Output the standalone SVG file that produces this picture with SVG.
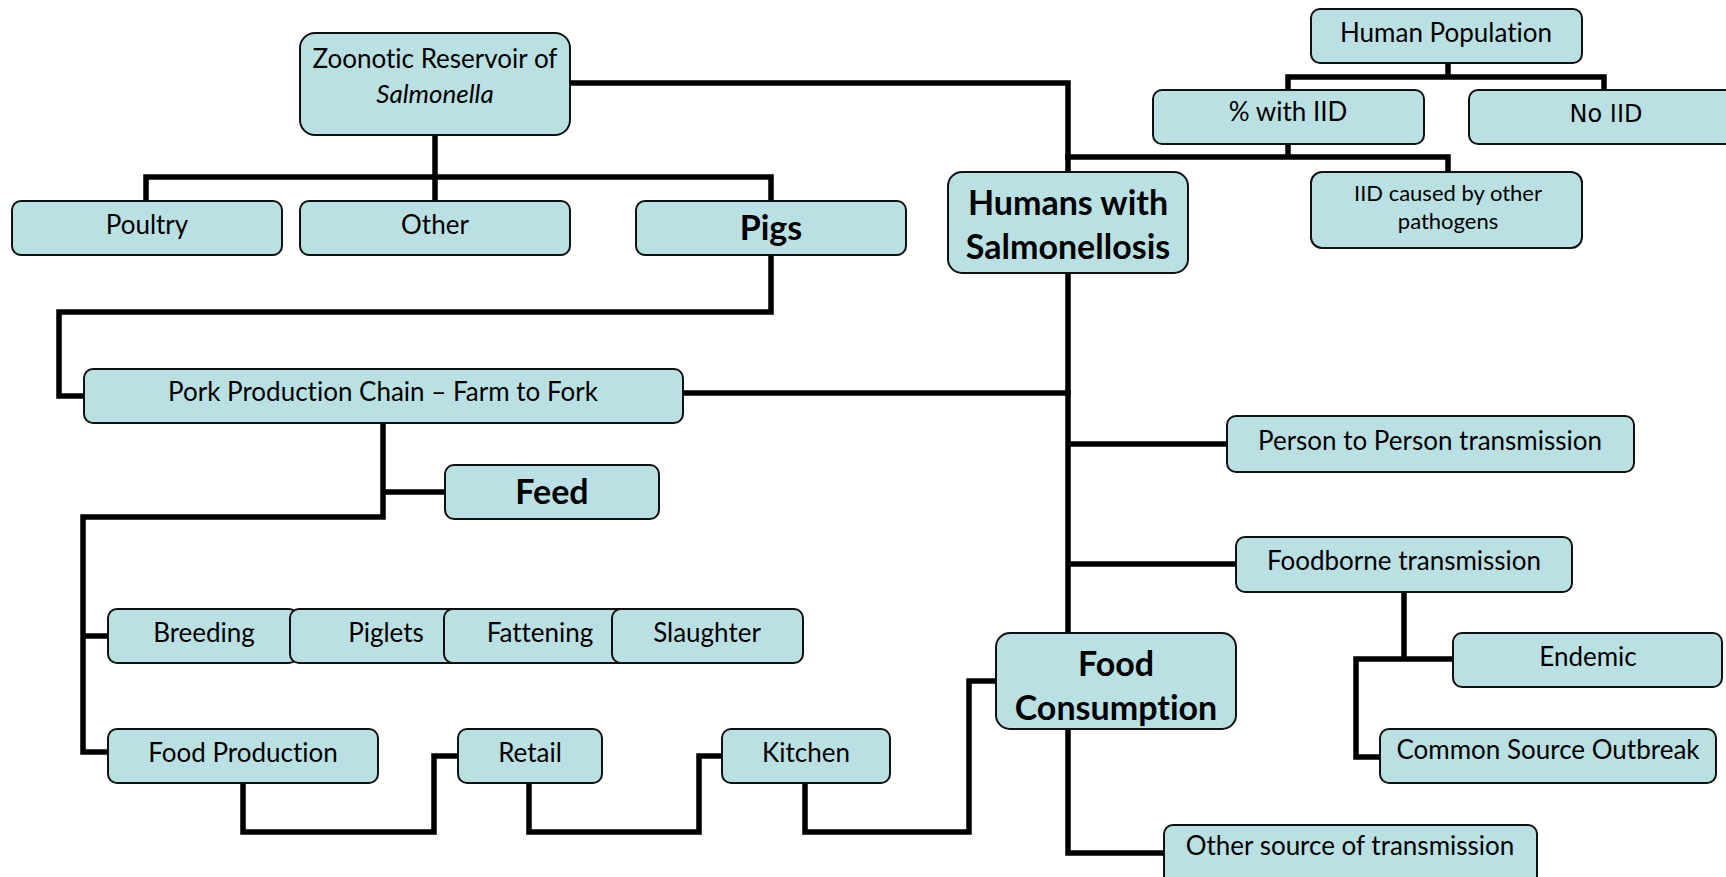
<svg xmlns="http://www.w3.org/2000/svg" width="1726" height="877" viewBox="0 0 1726 877">
<style>
text{font-variant-ligatures:none}
.b{fill:#BBE0E3;stroke:#111;stroke-width:2}
.t{font-family:Lato,"Liberation Sans",sans-serif;font-size:26px;fill:#000;text-anchor:middle}
.bt{font-family:Lato,"Liberation Sans",sans-serif;font-size:34px;font-weight:bold;fill:#000;text-anchor:middle}
.s{font-family:Lato,"Liberation Sans",sans-serif;font-size:22px;fill:#000;text-anchor:middle}
.dv{font-family:"DejaVu Sans",sans-serif;font-size:24px;fill:#000;text-anchor:middle}
.c{fill:none;stroke:#000;stroke-width:5.5;stroke-linejoin:miter;stroke-linecap:square}
</style>
<rect width="1726" height="877" fill="#fff"/>
<g id="connectors">
<path class="c" d="M570,83 H1068 V172"/>
<path class="c" d="M1068,157 H1448 V172 M1288,144 V157"/>
<path class="c" d="M435,135 V177 M146,201 V177 H771 V201 M435,177 V201"/>
<path class="c" d="M771,255 V312 H59 V396 H84"/>
<path class="c" d="M683,393 H1068"/>
<path class="c" d="M1068,273 V633 M1068,444 H1227 M1068,564 H1236"/>
<path class="c" d="M1068,729 V853 H1164"/>
<path class="c" d="M1448,63 V77 M1288,90 V77 H1604 V90"/>
<path class="c" d="M1404,592 V659 M1356,659 H1453 M1356,659 V757 H1380"/>
<path class="c" d="M383,423 V517 H83 V752 H108 M383,492 H445 M83,636 H108"/>
<path class="c" d="M243,783 V832 H434 V756 H458"/>
<path class="c" d="M529,783 V832 H699 V756 H722"/>
<path class="c" d="M805,783 V832 H969 V681 H996"/>
</g>
<g id="zoonotic"><rect class="b" x="300" y="33" width="270" height="102" rx="15"/><text class="t" x="435" y="68">Zoonotic Reservoir of</text><text class="t" x="435" y="103" font-style="italic">Salmonella</text></g>
<g id="poultry"><rect class="b" x="12" y="201" width="270" height="54" rx="9"/><text class="t" x="147" y="234">Poultry</text></g>
<g id="other"><rect class="b" x="300" y="201" width="270" height="54" rx="9"/><text class="t" x="435" y="234">Other</text></g>
<g id="pigs"><rect class="b" x="636" y="201" width="270" height="54" rx="9"/><text class="bt" x="771" y="240">Pigs</text></g>
<g id="pork"><rect class="b" x="84" y="369" width="599" height="54" rx="9"/><text class="t" x="383" y="401">Pork Production Chain – Farm to Fork</text></g>
<g id="feed"><rect class="b" x="445" y="465" width="214" height="54" rx="9"/><text class="bt" x="552" y="504">Feed</text></g>
<g id="breeding"><rect class="b" x="108" y="609" width="190" height="54" rx="9"/><text class="t" x="204" y="642">Breeding</text></g>
<g id="piglets"><rect class="b" x="290" y="609" width="185" height="54" rx="9"/><text class="t" x="386" y="642">Piglets</text></g>
<g id="fattening"><rect class="b" x="444" y="609" width="188" height="54" rx="9"/><text class="t" x="540" y="642">Fattening</text></g>
<g id="slaughter"><rect class="b" x="612" y="609" width="191" height="54" rx="9"/><text class="t" x="707" y="642">Slaughter</text></g>
<g id="foodproduction"><rect class="b" x="108" y="729" width="270" height="54" rx="9"/><text class="t" x="243" y="762">Food Production</text></g>
<g id="retail"><rect class="b" x="458" y="729" width="144" height="54" rx="9"/><text class="t" x="530" y="762">Retail</text></g>
<g id="kitchen"><rect class="b" x="722" y="729" width="168" height="54" rx="9"/><text class="t" x="806" y="762">Kitchen</text></g>
<g id="humans"><rect class="b" x="948" y="172" width="240" height="101" rx="14"/><text class="bt" x="1068" y="215">Humans with</text><text class="bt" x="1068" y="259">Salmonellosis</text></g>
<g id="humanpop"><rect class="b" x="1311" y="9" width="271" height="54" rx="9"/><text class="t" x="1446" y="42">Human Population</text></g>
<g id="withiid"><rect class="b" x="1153" y="90" width="271" height="54" rx="9"/><text class="t" x="1288" y="121">% with IID</text></g>
<g id="noiid"><rect class="b" x="1469" y="90" width="290" height="54" rx="9"/><text class="dv" x="1606" y="122">No IID</text></g>
<g id="iidother"><rect class="b" x="1311" y="172" width="271" height="76" rx="11"/><text class="s" x="1448" y="201">IID caused by other</text><text class="s" x="1448" y="229">pathogens</text></g>
<g id="person"><rect class="b" x="1227" y="416" width="407" height="56" rx="9"/><text class="t" x="1430" y="450">Person to Person transmission</text></g>
<g id="foodborne"><rect class="b" x="1236" y="537" width="336" height="55" rx="9"/><text class="t" x="1404" y="570">Foodborne transmission</text></g>
<g id="endemic"><rect class="b" x="1453" y="633" width="269" height="54" rx="9"/><text class="t" x="1588" y="666">Endemic</text></g>
<g id="cso"><rect class="b" x="1380" y="729" width="336" height="54" rx="9"/><text class="t" x="1548" y="759">Common Source Outbreak</text></g>
<g id="foodcons"><rect class="b" x="996" y="633" width="240" height="96" rx="14"/><text class="bt" x="1116" y="676">Food</text><text class="bt" x="1116" y="720">Consumption</text></g>
<g id="othersource"><rect class="b" x="1164" y="825" width="373" height="70" rx="9"/><text class="t" x="1350" y="855">Other source of transmission</text></g>
</svg>
